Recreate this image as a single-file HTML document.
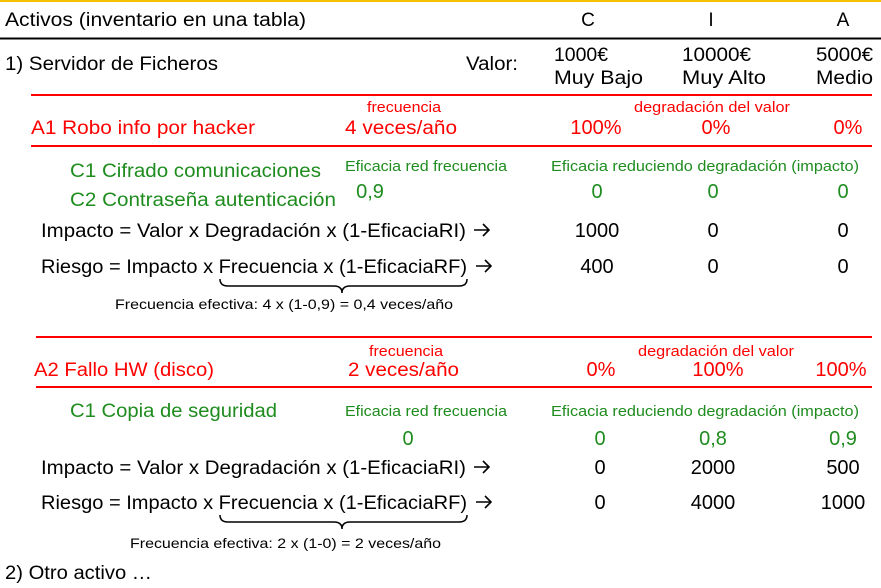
<!DOCTYPE html>
<html><head><meta charset="utf-8"><style>html,body{margin:0;padding:0;background:#fff}svg{display:block}text{font-family:"Liberation Sans",sans-serif}</style></head>
<body>
<svg width="881" height="588" viewBox="0 0 881 588" xmlns="http://www.w3.org/2000/svg">
<rect x="0" y="0" width="881" height="2" fill="#f5c000"/>
<line x1="0" y1="38.5" x2="881" y2="38.5" stroke="#000" stroke-width="2"/>
<g stroke="#f00" stroke-width="2">
<line x1="31" y1="95" x2="872" y2="95"/>
<line x1="31" y1="146" x2="872" y2="146"/>
<line x1="36" y1="337" x2="872" y2="337"/>
<line x1="36" y1="387" x2="872" y2="387"/>
</g>
<g font-size="19" fill="#000">
<text x="5" y="26" textLength="301" lengthAdjust="spacingAndGlyphs">Activos (inventario en una tabla)</text>
<text x="588" y="26" text-anchor="middle">C</text>
<text x="711" y="26" text-anchor="middle">I</text>
<text x="843" y="26" text-anchor="middle">A</text>
<text x="5" y="70" textLength="213" lengthAdjust="spacingAndGlyphs">1) Servidor de Ficheros</text>
<text x="466" y="70" textLength="52" lengthAdjust="spacingAndGlyphs">Valor:</text>
<text x="554" y="61" textLength="54" lengthAdjust="spacingAndGlyphs">1000€</text>
<text x="554" y="84" textLength="89" lengthAdjust="spacingAndGlyphs">Muy Bajo</text>
<text x="682" y="61" textLength="69" lengthAdjust="spacingAndGlyphs">10000€</text>
<text x="682" y="84" textLength="84" lengthAdjust="spacingAndGlyphs">Muy Alto</text>
<text x="816" y="61" textLength="57" lengthAdjust="spacingAndGlyphs">5000€</text>
<text x="816" y="84" textLength="57" lengthAdjust="spacingAndGlyphs">Medio</text>
</g>
<g fill="#f00">
<text x="367" y="112" font-size="15" textLength="74" lengthAdjust="spacingAndGlyphs">frecuencia</text>
<text x="634" y="112" font-size="15" textLength="156" lengthAdjust="spacingAndGlyphs">degradación del valor</text>
<text x="31" y="134" font-size="19" textLength="224" lengthAdjust="spacingAndGlyphs">A1 Robo info por hacker</text>
<text x="345" y="134" font-size="19" textLength="112" lengthAdjust="spacingAndGlyphs">4 veces/año</text>
<text x="596" y="134" font-size="20" text-anchor="middle">100%</text>
<text x="716" y="134" font-size="20" text-anchor="middle">0%</text>
<text x="848" y="134" font-size="20" text-anchor="middle">0%</text>
<text x="369" y="356" font-size="15" textLength="74" lengthAdjust="spacingAndGlyphs">frecuencia</text>
<text x="638" y="356" font-size="15" textLength="156" lengthAdjust="spacingAndGlyphs">degradación del valor</text>
<text x="34" y="376" font-size="19" textLength="180" lengthAdjust="spacingAndGlyphs">A2 Fallo HW (disco)</text>
<text x="348" y="376" font-size="19" textLength="111" lengthAdjust="spacingAndGlyphs">2 veces/año</text>
<text x="601" y="376" font-size="20" text-anchor="middle">0%</text>
<text x="718" y="376" font-size="20" text-anchor="middle">100%</text>
<text x="841" y="376" font-size="20" text-anchor="middle">100%</text>
</g>
<g fill="#1e8c1e">
<text x="70" y="177" font-size="19" textLength="251" lengthAdjust="spacingAndGlyphs">C1 Cifrado comunicaciones</text>
<text x="70" y="206" font-size="19" textLength="266" lengthAdjust="spacingAndGlyphs">C2 Contraseña autenticación</text>
<text x="345" y="171" font-size="15" textLength="162" lengthAdjust="spacingAndGlyphs">Eficacia red frecuencia</text>
<text x="551" y="171" font-size="15" textLength="308" lengthAdjust="spacingAndGlyphs">Eficacia reduciendo degradación (impacto)</text>
<text x="370" y="198" font-size="20" text-anchor="middle">0,9</text>
<text x="597" y="198" font-size="20" text-anchor="middle">0</text>
<text x="713" y="198" font-size="20" text-anchor="middle">0</text>
<text x="843" y="198" font-size="20" text-anchor="middle">0</text>
<text x="70" y="417" font-size="19" textLength="207" lengthAdjust="spacingAndGlyphs">C1 Copia de seguridad</text>
<text x="345" y="416" font-size="15" textLength="162" lengthAdjust="spacingAndGlyphs">Eficacia red frecuencia</text>
<text x="551" y="416" font-size="15" textLength="308" lengthAdjust="spacingAndGlyphs">Eficacia reduciendo degradación (impacto)</text>
<text x="408" y="445" font-size="20" text-anchor="middle">0</text>
<text x="600" y="445" font-size="20" text-anchor="middle">0</text>
<text x="713" y="445" font-size="20" text-anchor="middle">0,8</text>
<text x="843" y="445" font-size="20" text-anchor="middle">0,9</text>
</g>
<g fill="#000" font-size="19">
<text x="41" y="237" textLength="425" lengthAdjust="spacingAndGlyphs">Impacto = Valor x Degradación x (1-EficaciaRI)</text>
<text x="597" y="237" text-anchor="middle" font-size="20">1000</text>
<text x="713" y="237" text-anchor="middle" font-size="20">0</text>
<text x="843" y="237" text-anchor="middle" font-size="20">0</text>
<text x="41" y="273" textLength="426" lengthAdjust="spacingAndGlyphs">Riesgo = Impacto x Frecuencia x (1-EficaciaRF)</text>
<text x="597" y="273" text-anchor="middle" font-size="20">400</text>
<text x="713" y="273" text-anchor="middle" font-size="20">0</text>
<text x="843" y="273" text-anchor="middle" font-size="20">0</text>
<text x="115" y="309" font-size="14" textLength="338" lengthAdjust="spacingAndGlyphs">Frecuencia efectiva: 4 x (1-0,9) = 0,4 veces/año</text>
<text x="41" y="474" textLength="425" lengthAdjust="spacingAndGlyphs">Impacto = Valor x Degradación x (1-EficaciaRI)</text>
<text x="600" y="474" text-anchor="middle" font-size="20">0</text>
<text x="713" y="474" text-anchor="middle" font-size="20">2000</text>
<text x="843" y="474" text-anchor="middle" font-size="20">500</text>
<text x="41" y="509" textLength="426" lengthAdjust="spacingAndGlyphs">Riesgo = Impacto x Frecuencia x (1-EficaciaRF)</text>
<text x="600" y="509" text-anchor="middle" font-size="20">0</text>
<text x="713" y="509" text-anchor="middle" font-size="20">4000</text>
<text x="843" y="509" text-anchor="middle" font-size="20">1000</text>
<text x="130" y="548" font-size="14" textLength="311" lengthAdjust="spacingAndGlyphs">Frecuencia efectiva: 2 x (1-0) = 2 veces/año</text>
<text x="5" y="579" textLength="147" lengthAdjust="spacingAndGlyphs">2) Otro activo …</text>
</g>
<g fill="none" stroke="#000" stroke-width="1.6">
<path d="M474,230 H489 M483,224 L489,230 L483,236"/>
<path d="M476,266 H491 M485,260 L491,266 L485,272"/>
<path d="M474,467 H489 M483,461 L489,467 L483,473"/>
<path d="M476,502 H491 M485,496 L491,502 L485,508"/>
</g>
<g fill="none" stroke="#000" stroke-width="1.5">
<path d="M220,279 Q220,286 228,286 L334,286 Q342,286 342,293 Q342,286 350,286 L459,286 Q467,286 467,279"/>
<path d="M220,515 Q220,522 228,522 L334,522 Q342,522 342,529 Q342,522 350,522 L459,522 Q467,522 467,515"/>
</g>
</svg>
</body></html>
